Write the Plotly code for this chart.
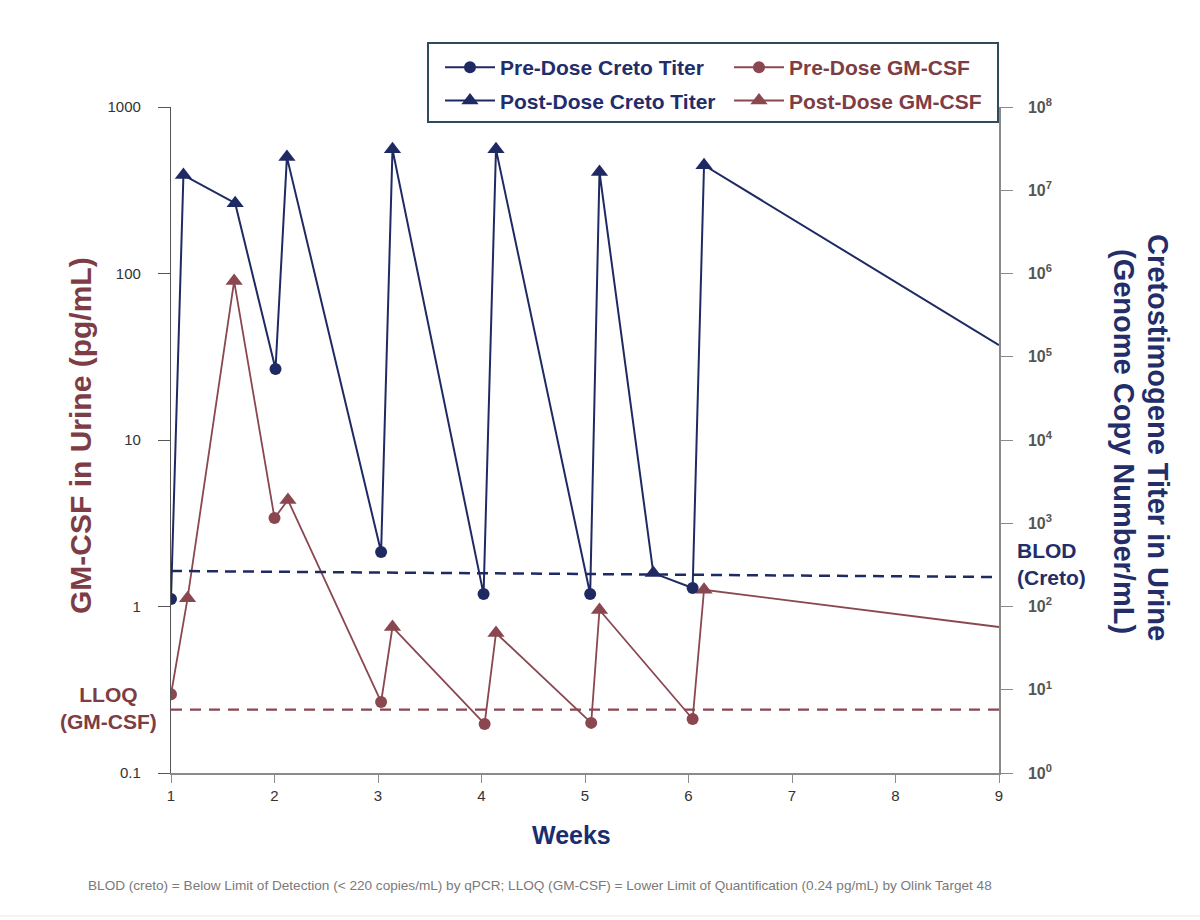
import plotly.graph_objects as go

# ---------------- data ----------------
creto_pre_weeks = [1.00, 2.01, 3.03, 4.02, 5.05, 6.04]
creto_pre_titer = [123, 71300, 452, 141, 141, 167]
creto_post_weeks = [1.12, 1.62, 2.12, 3.14, 4.14, 5.14, 5.66, 6.15]
creto_post_titer = [1.52e7, 7.0e6, 2.5e7, 3.1e7, 3.1e7, 1.66e7, 252, 2.0e7]
creto_end_weeks = [9.0]
creto_end_titer = [1.38e5]

gmcsf_pre_weeks = [1.00, 2.00, 3.03, 4.03, 5.06, 6.04]
gmcsf_pre_conc = [0.297, 3.40, 0.267, 0.197, 0.200, 0.211]
gmcsf_post_weeks = [1.16, 1.61, 2.13, 3.14, 4.14, 5.14, 6.15]
gmcsf_post_conc = [1.12, 90, 4.36, 0.753, 0.693, 0.953, 1.26]
gmcsf_end_weeks = [9.0]
gmcsf_end_conc = [0.753]

blod_weeks = [1, 9]
blod_titer = [267, 226]
lloq_weeks = [1, 9]
lloq_conc = [0.24, 0.24]

x_tickvals = [1, 2, 3, 4, 5, 6, 7, 8, 9]
left_tickvals = [0.1, 1, 10, 100, 1000]
left_ticktext = ["0.1", "1", "10", "100", "1000"]
right_exponents = [0, 1, 2, 3, 4, 5, 6, 7, 8]

# ---------------- style ----------------
NAVY = "#1f2a63"
MAROON = "#8a4750"
MAROON_TXT = "#7e3c45"
NAVY_TXT = "#232d6a"
FONT = "Arial, Liberation Sans, sans-serif"

fig = go.Figure()

# combined connecting lines
creto_pts = sorted(zip(creto_pre_weeks + creto_post_weeks + creto_end_weeks,
                       creto_pre_titer + creto_post_titer + creto_end_titer))
gm_pts = sorted(zip(gmcsf_pre_weeks + gmcsf_post_weeks + gmcsf_end_weeks,
                    gmcsf_pre_conc + gmcsf_post_conc + gmcsf_end_conc))

# threshold lines
fig.add_trace(go.Scatter(x=lloq_weeks, y=lloq_conc, mode="lines", yaxis="y",
                         line=dict(color=MAROON, width=2.2, dash="11px,8px"),
                         showlegend=False, hoverinfo="skip"))
fig.add_trace(go.Scatter(x=blod_weeks, y=blod_titer, mode="lines", yaxis="y2",
                         line=dict(color=NAVY, width=2.5, dash="11px,7px"),
                         showlegend=False, hoverinfo="skip"))

# GM-CSF
fig.add_trace(go.Scatter(x=[p[0] for p in gm_pts], y=[p[1] for p in gm_pts],
                         mode="lines", yaxis="y", line=dict(color=MAROON, width=1.8),
                         showlegend=False))
fig.add_trace(go.Scatter(x=gmcsf_pre_weeks, y=gmcsf_pre_conc, mode="markers", yaxis="y",
                         marker=dict(symbol="circle", size=12, color=MAROON),
                         showlegend=False))
fig.add_trace(go.Scatter(x=gmcsf_post_weeks, y=gmcsf_post_conc, mode="markers", yaxis="y",
                         marker=dict(symbol="triangle-up", size=15, color=MAROON),
                         showlegend=False))

# Creto
fig.add_trace(go.Scatter(x=[p[0] for p in creto_pts], y=[p[1] for p in creto_pts],
                         mode="lines", yaxis="y2", line=dict(color=NAVY, width=2),
                         showlegend=False))
fig.add_trace(go.Scatter(x=creto_pre_weeks, y=creto_pre_titer, mode="markers", yaxis="y2",
                         marker=dict(symbol="circle", size=12, color=NAVY),
                         showlegend=False))
fig.add_trace(go.Scatter(x=creto_post_weeks, y=creto_post_titer, mode="markers", yaxis="y2",
                         marker=dict(symbol="triangle-up", size=15, color=NAVY),
                         showlegend=False))

# legend entries
def leg(name, color, symbol, legend, group):
    fig.add_trace(go.Scatter(x=[None], y=[None], mode="lines+markers", name=name,
                             line=dict(color=color, width=2),
                             marker=dict(symbol=symbol, size=12 if symbol == "circle" else 15,
                                         color=color),
                             legend=legend, legendgroup=group))

leg("Pre-Dose Creto Titer", NAVY, "circle", "legend", "a")
leg("Post-Dose Creto Titer", NAVY, "triangle-up", "legend", "b")
leg("Pre-Dose GM-CSF", MAROON, "circle", "legend2", "c")
leg("Post-Dose GM-CSF", MAROON, "triangle-up", "legend2", "d")

# pixel helpers for paper coords (plot area 171..999 x 107..773)
def px(x):
    return (x - 171) / 828.0

def py(y):
    return (773 - y) / 666.0

fig.update_layout(
    width=1200, height=920,
    margin=dict(l=171, r=201, t=107, b=147),
    paper_bgcolor="white", plot_bgcolor="white",
    font=dict(family=FONT, size=15, color="#333333"),
    xaxis=dict(range=[1, 9], tickvals=x_tickvals, showgrid=False, zeroline=False,
               showline=True, linecolor="#8a8a8a", linewidth=1.5,
               ticks="outside", ticklen=8, tickcolor="#8a8a8a", tickwidth=1.2,
               tickfont=dict(size=15, color="#333333")),
    yaxis=dict(type="log", range=[-1, 3], tickvals=left_tickvals, ticktext=left_ticktext,
               showgrid=False, zeroline=False, showline=True, linecolor="#555555",
               linewidth=1.2, ticks="outside", ticklen=12, tickcolor="#555555",
               ticklabelstandoff=14, tickfont=dict(size=15, color="#333333")),
    yaxis2=dict(type="log", range=[0, 8], overlaying="y", side="right",
                tickvals=[10 ** e for e in right_exponents],
                ticktext=[f"<b>10<sup>{e}</sup></b>" for e in right_exponents],
                showgrid=False, zeroline=False, showline=True, linecolor="#8a8a8a",
                linewidth=1.5, ticks="outside", ticklen=12, tickcolor="#8a8a8a",
                ticklabelstandoff=12, tickfont=dict(size=16, color="#555555")),
    legend=dict(x=px(440), y=py(47), xanchor="left", yanchor="top",
                bgcolor="rgba(0,0,0,0)", borderwidth=0, traceorder="grouped",
                tracegroupgap=3, itemwidth=50,
                font=dict(family=FONT, size=21, color=NAVY_TXT, weight="bold"),
                itemclick=False),
    legend2=dict(x=px(729), y=py(47), xanchor="left", yanchor="top",
                 bgcolor="rgba(0,0,0,0)", borderwidth=0, traceorder="grouped",
                 tracegroupgap=3, itemwidth=50,
                 font=dict(family=FONT, size=21, color=MAROON_TXT, weight="bold"),
                 itemclick=False),
    showlegend=True,
)

shapes = [
    dict(type="rect", xref="paper", yref="paper", x0=px(428), x1=px(998), y0=py(122), y1=py(43),
         line=dict(color="#2d4b5a", width=2), fillcolor="rgba(0,0,0,0)", layer="above"),
    dict(type="line", xref="paper", yref="paper", x0=px(0), x1=px(1200), y0=py(916), y1=py(916),
         line=dict(color="#e6e6e6", width=1)),
]
fig.update_layout(shapes=shapes)

ann = [
    dict(text="<b>GM-CSF in Urine (pg/mL)</b>", x=px(80), y=py(436), textangle=-90,
         font=dict(size=30, color=MAROON_TXT)),
    dict(text="<b>Cretostimogene Titer in Urine</b>", x=px(1158), y=py(437), textangle=90,
         font=dict(size=29, color=NAVY_TXT)),
    dict(text="<b>(Genome Copy Number/mL)</b>", x=px(1124), y=py(441), textangle=90,
         font=dict(size=29, color=NAVY_TXT)),
    dict(text="<b>Weeks</b>", x=px(571), y=py(835), font=dict(size=25, color="#1b2d6e")),
    dict(text="<b>BLOD<br>(Creto)</b>", x=px(1015), y=py(564), xanchor="left", align="left",
         font=dict(size=21, color=NAVY_TXT)),
    dict(text="<b>LLOQ<br>(GM-CSF)</b>", x=px(108), y=py(708), align="center",
         font=dict(size=21, color=MAROON_TXT)),
    dict(text="BLOD (creto) = Below Limit of Detection (< 220 copies/mL) by qPCR; "
              "LLOQ (GM-CSF) = Lower Limit of Quantification (0.24 pg/mL) by Olink Target 48",
         x=px(540), y=py(885), font=dict(size=13.6, color="#7a7a7a")),
]
for a in ann:
    a.update(xref="paper", yref="paper", showarrow=False)
    a.setdefault("xanchor", "center")
    a.setdefault("yanchor", "middle")
fig.update_layout(annotations=ann)

fig.write_html("out.html")
